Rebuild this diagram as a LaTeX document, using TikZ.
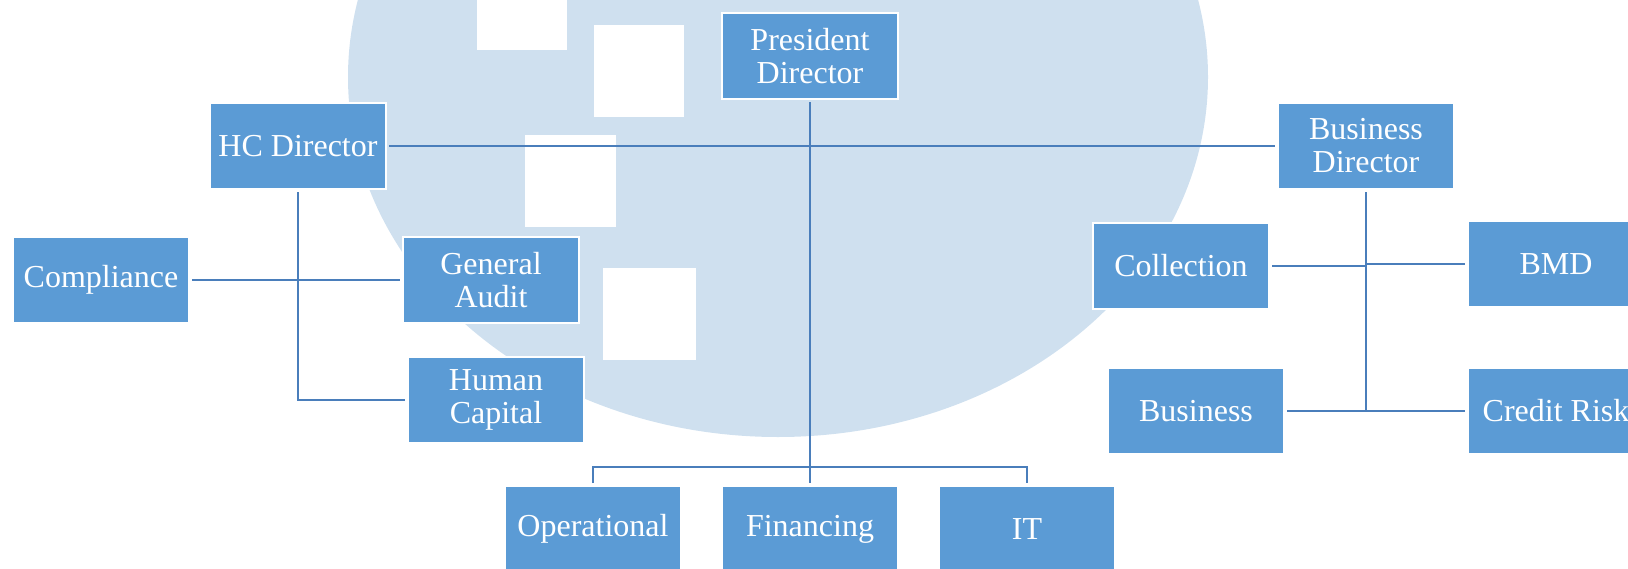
\documentclass[tikz,border=0pt]{standalone}
\usepackage{fontspec}
\setmainfont{Liberation Serif}

\definecolor{unitblue}{HTML}{5B9BD5}
\definecolor{linkblue}{HTML}{4A7EBB}
\definecolor{markblue}{HTML}{CFE0EF}

\tikzset{
	unit/.style={rectangle, fill=unitblue, draw=white, line width=1pt,
		minimum width=88pt, minimum height=43pt, outer sep=1.5pt,
		text=white, align=center, font=\fontsize{16}{16.5}\selectfont},
	link/.style={draw=linkblue, line width=1.4pt}
}

\begin{document}
\begin{tikzpicture}[x=0.5pt, y=-0.5pt]
	\useasboundingbox (0,0) rectangle (1628,568);

	% Background mark
	\fill[markblue] (778,77) ellipse [x radius=430, y radius=360];
	\fill[white] (477,0) rectangle (567,50);
	\fill[white] (594,25) rectangle (684,117);
	\fill[white] (525,135) rectangle (616,227);
	\fill[white] (603,268) rectangle (696,360);

	% Define the units
	\node[unit] (pd) at (810, 56) {President\\Director};
	\node[unit] (hcd) at (298, 146) {HC Director};
	\node[unit] (bd) at (1366, 146) {Business\\Director};
	\node[unit] (comp) at (101, 280) {Compliance};
	\node[unit] (ga) at (491, 280) {General\\Audit};
	\node[unit] (hc) at (496, 400) {Human\\Capital};
	\node[unit] (coll) at (1181, 266) {Collection};
	\node[unit] (bmd) at (1556, 264) {BMD};
	\node[unit] (bus) at (1196, 411) {Business};
	\node[unit] (cr) at (1556, 411) {Credit Risk};
	\node[unit] (ops) at (593, 529) {Operational};
	\node[unit] (fin) at (810, 529) {Financing};
	\node[unit] (it) at (1027, 529) {IT};

	% Junction points
	\coordinate (hcbase) at (298, 400);
	\coordinate (bdbase) at (1366, 411);
	\coordinate (bdmid) at (1366, 264);
	\coordinate (opsbus) at (593, 467);
	\coordinate (itbus) at (1027, 467);

	% Draw the lines between units
	\draw[link] (pd) -- (fin);
	\draw[link] (hcd) -- (bd);
	\draw[link] (hcd) -- (hcbase) -- (hc);
	\draw[link] (comp) -- (ga);
	\draw[link] (bd) -- (bdbase);
	\draw[link] (coll) -- (coll.east -| bdmid);
	\draw[link] (bdmid) -- (bmd);
	\draw[link] (bus) -- (cr);
	\draw[link] (ops) -- (opsbus) -- (itbus) -- (it);
\end{tikzpicture}
\end{document}
